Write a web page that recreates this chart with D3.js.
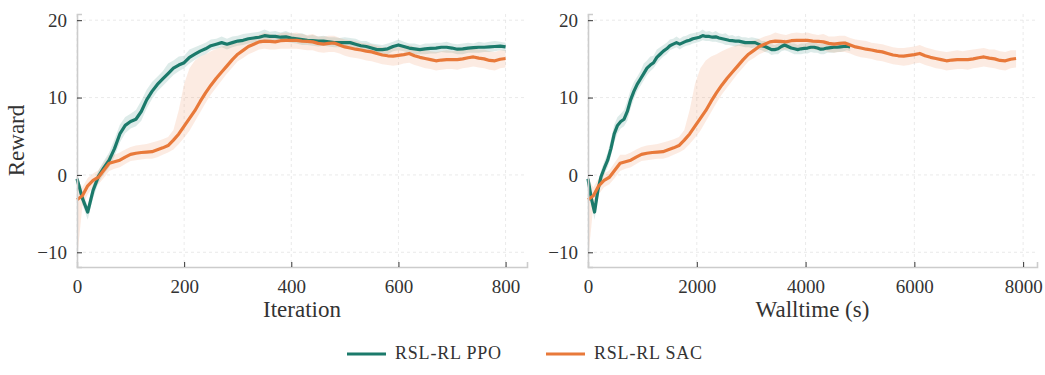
<!DOCTYPE html>
<html>
<head>
<meta charset="utf-8">
<script src="https://cdn.jsdelivr.net/npm/d3@7"></script>
<style>
  body { margin: 0; background: #fff; }
  svg text { font-family: 'Liberation Serif', 'DejaVu Serif', serif; fill: #333; }
</style>
</head>
<body>
<svg id="chart" width="1045" height="375"></svg>
<script>
// sample grid (every 10 iterations)
const iterations = d3.range(0, 810, 10);

// RSL-RL PPO reward (mean, upper, lower)
const ppoMean = [-0.5, -3.0, -4.8, -2.0, -0.2, 0.9, 1.9, 3.4, 5.3, 6.4,
  6.9, 7.2, 8.2, 9.7, 10.8, 11.7, 12.4, 13.1, 13.8, 14.2,
  14.5, 15.2, 15.6, 16.0, 16.3, 16.7, 16.9, 17.1, 16.9, 17.1,
  17.3, 17.4, 17.6, 17.7, 17.8, 18.0, 17.9, 17.9, 17.8, 17.85,
  17.7, 17.6, 17.5, 17.4, 17.35, 17.3, 17.3, 17.2, 17.1, 17.1,
  17.1, 17.1, 16.9, 16.7, 16.6, 16.4, 16.2, 16.2, 16.3, 16.6,
  16.8, 16.6, 16.4, 16.3, 16.2, 16.3, 16.35, 16.4, 16.5, 16.5,
  16.4, 16.25, 16.3, 16.4, 16.45, 16.5, 16.5, 16.55, 16.6, 16.65, 16.55];
const ppoHi = [0.2, -2.2, -4.0, -1.2, 0.6, 1.8, 2.9, 4.6, 6.5, 7.5,
  7.9, 8.4, 9.6, 11.0, 12.0, 12.7, 13.4, 14.4, 14.8, 15.3,
  15.4, 16.2, 16.5, 16.8, 17.1, 17.5, 17.6, 17.9, 17.6, 17.9,
  18.0, 18.2, 18.3, 18.4, 18.5, 18.8, 18.5, 18.6, 18.4, 18.6,
  18.3, 18.2, 18.3, 18.0, 18.1, 17.9, 18.0, 17.8, 17.8, 17.7,
  17.8, 17.7, 17.6, 17.3, 17.3, 17.0, 16.9, 16.8, 17.0, 17.2,
  17.5, 17.2, 17.0, 17.0, 16.8, 17.0, 17.0, 17.1, 17.1, 17.2,
  17.0, 16.9, 17.0, 17.1, 17.0, 17.2, 17.1, 17.2, 17.3, 17.2, 17.1];
const ppoLo = [-1.2, -3.8, -5.8, -3.0, -1.0, 0.1, 1.0, 2.4, 4.2, 5.4,
  6.0, 6.3, 7.0, 8.6, 9.8, 10.8, 11.5, 12.2, 12.9, 13.4,
  13.8, 14.4, 14.9, 15.3, 15.6, 16.1, 16.3, 16.5, 16.2, 16.5,
  16.7, 16.8, 17.0, 17.1, 17.2, 17.4, 17.3, 17.3, 17.2, 17.2,
  17.1, 17.0, 16.8, 16.8, 16.7, 16.6, 16.7, 16.6, 16.5, 16.5,
  16.4, 16.5, 16.2, 16.1, 15.9, 15.8, 15.5, 15.6, 15.6, 16.0,
  16.1, 16.0, 15.8, 15.6, 15.6, 15.6, 15.7, 15.7, 15.9, 15.8,
  15.8, 15.6, 15.6, 15.8, 15.8, 15.8, 15.9, 15.9, 16.0, 16.1, 16.0];

// RSL-RL SAC reward (mean, upper, lower)
const sacMean = [-3.2, -2.7, -1.4, -0.7, -0.3, 0.6, 1.5, 1.7, 1.9, 2.3,
  2.65, 2.8, 2.9, 2.95, 3.0, 3.25, 3.5, 3.8, 4.5, 5.3,
  6.3, 7.3, 8.3, 9.5, 10.6, 11.6, 12.5, 13.3, 14.1, 14.9,
  15.6, 16.1, 16.6, 16.9, 17.2, 17.3, 17.25, 17.2, 17.35, 17.4,
  17.4, 17.4, 17.3, 17.25, 17.2, 17.0, 16.9, 17.0, 17.05, 16.8,
  16.55, 16.4, 16.25, 16.15, 16.0, 15.9, 15.7, 15.5, 15.4, 15.35,
  15.45, 15.55, 15.7, 15.4, 15.2, 15.05, 14.9, 14.75, 14.85, 14.9,
  14.9, 14.9, 15.0, 15.15, 15.25, 15.1, 15.0, 14.8, 14.75, 14.95, 15.05];
const sacHi = [-0.5, -1.6, -0.4, 0.2, 0.6, 1.6, 2.6, 2.6, 2.9, 3.3,
  3.6, 3.8, 3.9, 4.0, 4.2, 4.4, 4.6, 4.9, 5.8, 8.4,
  11.8, 13.8, 14.8, 15.3, 15.6, 16.0, 16.3, 16.6, 16.8, 17.0,
  17.2, 17.4, 17.6, 17.9, 18.1, 18.4, 18.2, 18.1, 18.3, 18.4,
  18.3, 18.4, 18.2, 18.1, 18.2, 17.9, 17.9, 18.0, 18.0, 17.7,
  17.5, 17.4, 17.3, 17.1, 17.0, 16.9, 16.7, 16.5, 16.4, 16.4,
  16.5, 16.6, 16.8, 16.5, 16.3, 16.1, 16.0, 15.9, 16.0, 16.1,
  16.0, 16.1, 16.2, 16.3, 16.4, 16.2, 16.2, 16.0, 15.9, 16.1, 16.1];
const sacLo = [-11.0, -4.0, -2.5, -1.6, -1.2, -0.4, 0.5, 0.8, 1.0, 1.4,
  1.8, 1.9, 2.0, 2.1, 2.1, 2.3, 2.6, 2.9, 3.3, 4.0,
  4.8, 5.7, 6.9, 8.1, 9.3, 10.4, 11.3, 12.2, 13.1, 13.9,
  14.7, 15.1, 15.6, 15.9, 16.2, 16.3, 16.2, 16.2, 16.3, 16.3,
  16.3, 16.3, 16.2, 16.1, 16.1, 15.9, 15.8, 15.9, 15.9, 15.7,
  15.4, 15.2, 15.1, 15.0, 14.8, 14.7, 14.5, 14.3, 14.2, 14.1,
  14.2, 14.4, 14.5, 14.2, 14.0, 13.8, 13.7, 13.5, 13.6, 13.7,
  13.7, 13.6, 13.8, 13.9, 14.0, 13.9, 13.8, 13.6, 13.5, 13.8, 13.9];

// total walltime (s) of each run, 800 iterations
const ppoWalltime = 4820;
const sacWalltime = 7870;

const seriesNames = ['RSL-RL PPO', 'RSL-RL SAC'];
const colors = ['#1b7a6b', '#e8793a'];

const yTicks = [-10, 0, 10, 20];
const iterTicks = [0, 200, 400, 600, 800];
const wallTicks = [0, 2000, 4000, 6000, 8000];

const runs = [
  { name: seriesNames[0], color: colors[0], mean: ppoMean, hi: ppoHi, lo: ppoLo, walltime: ppoWalltime },
  { name: seriesNames[1], color: colors[1], mean: sacMean, hi: sacHi, lo: sacLo, walltime: sacWalltime }
];

const svg = d3.select('#chart');
const plotTop = 14, plotBottom = 267;

function drawPanel(left, right, xDomain, xTicks, xLabel, useWalltime, showYLabel) {
  const g = svg.append('g');

  const x = d3.scaleLinear().domain(xDomain).range([left, right]);
  const y = d3.scaleLinear().domain([-11.9, 20.8]).range([plotBottom, plotTop]);

  // grid
  g.selectAll('.hgrid').data(yTicks).enter().append('line')
    .attr('x1', left).attr('x2', right)
    .attr('y1', d => y(d)).attr('y2', d => y(d))
    .attr('stroke', '#e4e4e4').attr('stroke-width', 0.8).attr('stroke-dasharray', '3,3');
  g.selectAll('.vgrid').data(xTicks).enter().append('line')
    .attr('x1', d => x(d)).attr('x2', d => x(d))
    .attr('y1', plotTop).attr('y2', plotBottom)
    .attr('stroke', '#e4e4e4').attr('stroke-width', 0.8).attr('stroke-dasharray', '3,3');

  // bands first, then lines
  runs.forEach(r => {
    const t = d3.scaleLinear().domain([0, 800]).range([0, useWalltime ? r.walltime : 800]);
    const area = d3.area()
      .x((d, i) => x(t(iterations[i])))
      .y0((d, i) => y(r.lo[i]))
      .y1((d, i) => y(r.hi[i]));
    g.append('path').attr('d', area(r.mean))
      .attr('fill', r.color).attr('fill-opacity', 0.15).attr('stroke', 'none');
  });
  runs.forEach(r => {
    const t = d3.scaleLinear().domain([0, 800]).range([0, useWalltime ? r.walltime : 800]);
    const line = d3.line()
      .x((d, i) => x(t(iterations[i])))
      .y(d => y(d));
    g.append('path').attr('d', line(r.mean))
      .attr('fill', 'none').attr('stroke', r.color)
      .attr('stroke-width', 3.2).attr('stroke-linejoin', 'round');
  });

  // axes (ticks inward, light spines)
  const xAxis = g.append('g').attr('transform', `translate(0,${plotBottom})`)
    .call(d3.axisBottom(x).tickValues(xTicks).tickSize(-5).tickPadding(13).tickFormat(d3.format('d')));
  const yAxis = g.append('g').attr('transform', `translate(${left},0)`)
    .call(d3.axisLeft(y).tickValues(yTicks).tickSize(-5).tickPadding(10).tickFormat(d => d < 0 ? '\u2212' + Math.abs(d) : d));
  [xAxis, yAxis].forEach(a => {
    a.select('.domain').attr('stroke', '#cccccc').attr('stroke-width', 1.6);
    a.selectAll('.tick line').attr('stroke', '#333').attr('stroke-width', 1);
    a.selectAll('.tick text').attr('font-size', '19px').attr('fill', '#333');
  });

  g.append('text')
    .attr('x', (left + right) / 2).attr('y', 317)
    .attr('text-anchor', 'middle').attr('font-size', '23px')
    .text(xLabel);

  if (showYLabel) {
    g.append('text')
      .attr('transform', `translate(24,${(plotTop + plotBottom) / 2}) rotate(-90)`)
      .attr('text-anchor', 'middle').attr('font-size', '23px')
      .text('Reward');
  }
}

drawPanel(77, 527, [0, 840], iterTicks, 'Iteration', false, true);
drawPanel(588, 1037, [0, 8255], wallTicks, 'Walltime (s)', true, false);

// legend
const legendX = [347, 546];
const legend = svg.append('g');
runs.forEach((r, i) => {
  legend.append('line')
    .attr('x1', legendX[i]).attr('x2', legendX[i] + 39)
    .attr('y1', 354).attr('y2', 354)
    .attr('stroke', r.color).attr('stroke-width', 3);
  legend.append('text')
    .attr('x', legendX[i] + 48).attr('y', 359)
    .attr('font-size', '18px').attr('letter-spacing', '0.8px')
    .text(r.name);
});
</script>
</body>
</html>
